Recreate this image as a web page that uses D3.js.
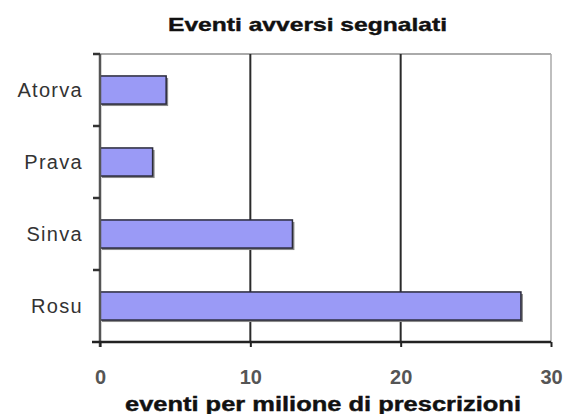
<!DOCTYPE html>
<html><head><meta charset="utf-8">
<script src="https://cdn.jsdelivr.net/npm/d3@7"></script>
<style>html,body{margin:0;padding:0;background:#fff;}svg{display:block;}</style>
</head><body>
<svg id="c" width="563" height="414"></svg>
<script>
const categories = ["Atorva", "Prava", "Sinva", "Rosu"];
const values = [4.4, 3.5, 12.8, 28.0];
const xTicks = [0, 10, 20, 30];
const chartTitle = "Eventi avversi segnalati";
const xTitle = "eventi per milione di prescrizioni";

const svg = d3.select("#c");
const L = 100, R = 551, T = 54, B = 342;
const x = d3.scaleLinear().domain([0, 30]).range([L, R]);
const y = d3.scaleBand().domain(categories).range([T, B]).paddingInner(0.61).paddingOuter(0.305);

// top & right border
svg.append("line").attr("x1", L).attr("x2", R).attr("y1", T).attr("y2", T).attr("stroke", "#aaa").attr("stroke-width", 2);
svg.append("line").attr("x1", R).attr("x2", R).attr("y1", T).attr("y2", B).attr("stroke", "#aaa").attr("stroke-width", 1.5);

// vertical gridlines
svg.append("g").selectAll("line").data(xTicks.filter(d => d > 0 && d < 30)).join("line")
  .attr("x1", d => x(d)).attr("x2", d => x(d)).attr("y1", T).attr("y2", B)
  .attr("stroke", "#2a2a2a").attr("stroke-width", 2);

// bars: shadow then bar
const g = svg.append("g");
g.selectAll("rect.sh").data(values).join("rect").attr("class", "sh")
  .attr("x", x(0) + 2).attr("y", (d, i) => y(categories[i]) + 2)
  .attr("width", d => x(d) - x(0)).attr("height", y.bandwidth())
  .attr("fill", "#8a8a8a");
g.selectAll("rect.b").data(values).join("rect").attr("class", "b")
  .attr("x", x(0)).attr("y", (d, i) => y(categories[i]))
  .attr("width", d => x(d) - x(0)).attr("height", y.bandwidth())
  .attr("fill", "#9a9af6").attr("stroke", "#2a2a3a").attr("stroke-width", 1.5);

// left axis line
svg.append("line").attr("x1", L).attr("x2", L).attr("y1", T).attr("y2", B + 5).attr("stroke", "#555").attr("stroke-width", 2.5);
// y ticks at band boundaries
const bounds = categories.map(c => y(c) - y.step() * y.paddingInner() / 2);
svg.append("g").selectAll("line").data(bounds).join("line")
  .attr("x1", L - 7).attr("x2", L).attr("y1", d => d).attr("y2", d => d)
  .attr("stroke", "#333").attr("stroke-width", 2.5);

// bottom axis
const xAxis = d3.axisBottom(x).tickValues(xTicks).tickSize(5).tickFormat(d3.format("d"));
const ax = svg.append("g").attr("transform", `translate(0,${B})`).call(xAxis);
ax.select(".domain").remove();
ax.selectAll(".tick line").attr("stroke", "#222").attr("stroke-width", 2);
ax.selectAll(".tick text").attr("dy", null).attr("y", 42)
  .attr("font-family", "Liberation Sans, Arial, sans-serif").attr("font-size", 20)
  .attr("font-weight", "bold").attr("fill", "#555");
svg.append("line").attr("x1", L - 8).attr("x2", R).attr("y1", B).attr("y2", B).attr("stroke", "#222").attr("stroke-width", 2.5);

// category labels
svg.append("g").selectAll("text").data(categories).join("text")
  .attr("x", 83).attr("y", d => y(d) + y.bandwidth() / 2 + 7)
  .attr("text-anchor", "end").attr("font-family", "Liberation Sans, Arial, sans-serif")
  .attr("font-size", 20).attr("letter-spacing", 1.3).attr("fill", "#333")
  .text(d => d);

// title
svg.append("text").attr("x", 168).attr("y", 31).attr("textLength", 279).attr("lengthAdjust", "spacingAndGlyphs")
  .attr("font-family", "Liberation Sans, Arial, sans-serif").attr("font-size", 19).attr("font-weight", "bold")
  .attr("fill", "#111").attr("stroke", "#111").attr("stroke-width", 0.4).text(chartTitle);

// x title
svg.append("text").attr("x", 125).attr("y", 411).attr("textLength", 396).attr("lengthAdjust", "spacingAndGlyphs")
  .attr("font-family", "Liberation Sans, Arial, sans-serif").attr("font-size", 20).attr("font-weight", "bold")
  .attr("fill", "#111").attr("stroke", "#111").attr("stroke-width", 0.4).text(xTitle);
</script>
</body></html>
